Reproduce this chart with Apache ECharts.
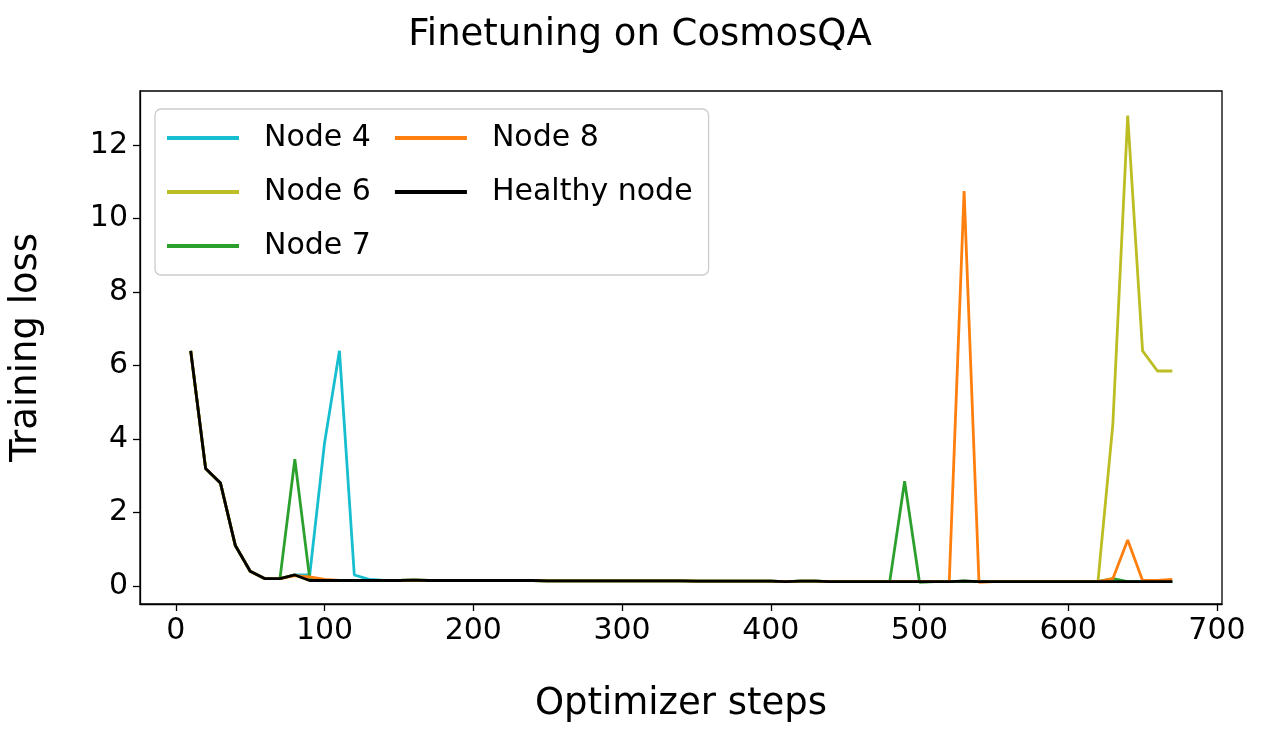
<!DOCTYPE html>
<html><head><meta charset="utf-8">
<script src="https://cdn.jsdelivr.net/npm/echarts@6/dist/echarts.min.js"></script>
<style>html,body{margin:0;background:#fff}#c{width:1280px;height:731px}</style>
</head><body><div id="c"></div>
<script>
const steps = [];
for (let s = 10; s <= 670; s += 10) steps.push(s);
const healthy = [6.4,3.2,2.8,1.1,0.4,0.2,0.2,0.3,0.15,0.15,0.15,0.15,0.15,0.15,0.15,0.16,0.15,0.15,0.15,0.15,0.15,0.15,0.15,0.15,0.14,0.14,0.14,0.14,0.14,0.14,0.14,0.14,0.14,0.14,0.13,0.13,0.13,0.13,0.13,0.13,0.12,0.13,0.13,0.12,0.12,0.12,0.12,0.12,0.12,0.12,0.12,0.12,0.13,0.12,0.12,0.12,0.12,0.12,0.12,0.12,0.12,0.12,0.12,0.12,0.12,0.12,0.12];
function mod(over){ const a = healthy.slice(); for (const k in over) a[(k/10)-1] = over[k]; return a; }
const node4 = mod({90:0.3,100:3.9,110:6.4,120:0.3,130:0.18});
const node6 = mod({620:0.12,630:4.4,640:12.8,650:6.4,660:5.85,670:5.85});
const node7 = mod({80:3.45,90:0.2,480:0.12,490:2.85,500:0.1,630:0.2});
const node8 = mod({80:0.28,90:0.25,100:0.18,520:0.12,530:10.75,540:0.1,630:0.2,640:1.25,650:0.15,660:0.15,670:0.18});
const xTicks = [0,100,200,300,400,500,600,700];
const yTicks = [0,2,4,6,8,10,12];
const names = ['Node 4','Node 6','Node 7','Node 8','Healthy node'];
const colors = ['#17becf','#bcbd22','#2ca02c','#ff7f0e','#000000'];
const datas = [node4,node6,node7,node8,healthy];
const F = 'DejaVu Sans';
const ch = echarts.init(document.getElementById('c'));
ch.setOption({
  animation:false,
  title:{text:'Finetuning on CosmosQA',left:'center',top:12,textStyle:{fontFamily:F,fontSize:37,fontWeight:'normal',color:'#000'}},
  grid:{left:137,right:58,top:91,bottom:127,show:true,borderColor:'#000',borderWidth:1.3},
  legend:{orient:'vertical',left:155,top:109,height:140,width:663,itemGap:24,itemWidth:72,itemHeight:4,padding:[14,16,14,12],
    backgroundColor:'#fff',borderColor:'#ccc',borderWidth:1.3,borderRadius:6,
    icon:'rect',textStyle:{fontFamily:F,fontSize:30,color:'#000',padding:[0,0,0,20]},data:names},
  xAxis:{type:'value',min:-24.1,max:703.4,splitLine:{show:false},
    name:'Optimizer steps',nameLocation:'middle',nameGap:82,nameTextStyle:{fontFamily:F,fontSize:37,color:'#000'},
    axisLine:{onZero:false,lineStyle:{color:'#000',width:1.3}},
    axisTick:{customValues:xTicks,length:7,lineStyle:{color:'#000',width:1.3}},
    axisLabel:{customValues:xTicks,fontFamily:F,fontSize:30,color:'#000',margin:12}},
  yAxis:{type:'value',min:-0.49,max:13.47,splitLine:{show:false},
    name:'Training loss',nameLocation:'middle',nameGap:95,nameTextStyle:{fontFamily:F,fontSize:37,color:'#000'},
    axisLine:{onZero:false,lineStyle:{color:'#000',width:1.3}},
    axisTick:{customValues:yTicks,length:7,lineStyle:{color:'#000',width:1.3}},
    axisLabel:{customValues:yTicks,fontFamily:F,fontSize:30,color:'#000',margin:12}},
  series:names.map((n,i)=>({name:n,type:'line',showSymbol:false,color:colors[i],
    lineStyle:{width:2.8,color:colors[i]},data:steps.map((s,j)=>[s,datas[i][j]])}))
});
</script></body></html>
